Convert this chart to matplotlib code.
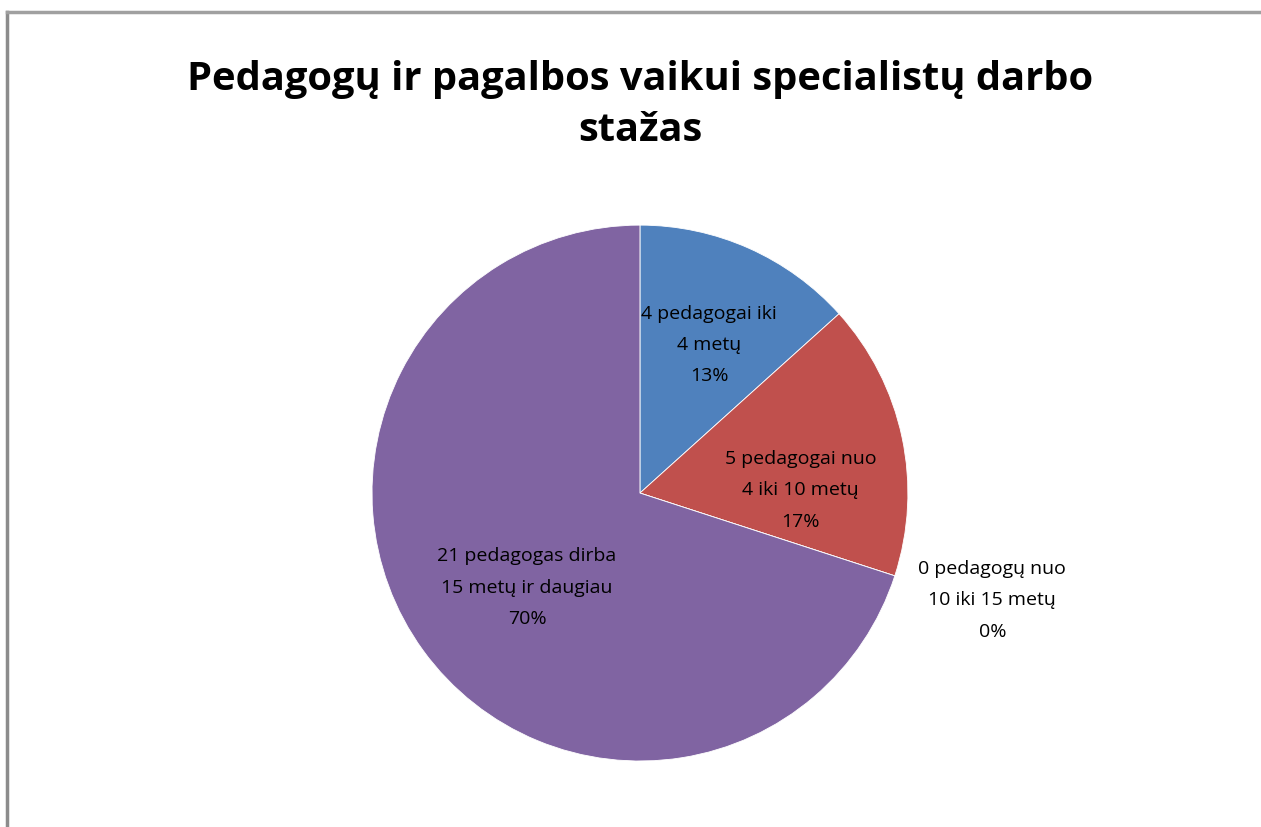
import numpy as np
import matplotlib.pyplot as plt
from matplotlib.lines import Line2D

title = "Pedagogų ir pagalbos vaikui specialistų darbo\nstažas"
labels = ["4 pedagogai iki\n4 metų", "5 pedagogai nuo\n4 iki 10 metų",
          "0 pedagogų nuo\n10 iki 15 metų", "21 pedagogas dirba\n15 metų ir daugiau"]
counts = [4, 5, 0, 21]
colors = ["#4F81BD", "#C0504D", "#9BBB59", "#8064A2"]

plt.rcParams['font.family'] = ['Open Sans', 'DejaVu Sans']

fig = plt.figure(figsize=(12.61, 8.27), dpi=100)
fig.patch.set_facecolor("white")

# chart frame (gray border cut at right/bottom like the source screenshot)
fig.add_artist(Line2D([7 / 1261, 7 / 1261], [0, 1 - 12 / 827], color="#8c8c8c", lw=2.5))
fig.add_artist(Line2D([7 / 1261, 1], [1 - 12 / 827, 1 - 12 / 827], color="#a0a0a0", lw=2.5))

fig.text(0.5075, 1 - 105 / 827, title, ha="center", va="center", fontsize=28.7,
         fontweight="bold", linespacing=1.38)

ax = fig.add_axes([0.295, 0.0798, 0.425, 0.648])
wedges, _ = ax.pie(counts, colors=colors, startangle=90, counterclock=False,
                   radius=1, wedgeprops=dict(edgecolor="white", linewidth=0.6))
ax.set_xlim(-1, 1)
ax.set_ylim(-1, 1)
ax.set_aspect("equal")
ax.axis("off")

total = sum(counts)
# label radius / angle tweaks per slice (Excel-style placement)
rad = [0.61, 0.60, 1.37, 0.55]
shift = [-1, -11, 0, 4]
for i, w in enumerate(wedges):
    mid = (w.theta1 + w.theta2) / 2 + shift[i]
    x = rad[i] * np.cos(np.radians(mid))
    y = rad[i] * np.sin(np.radians(mid))
    if counts[i] == 0:
        x, y = 1.315, -0.40
    pct = f"{round(100 * counts[i] / total)}%"
    ax.text(x, y, labels[i] + "\n" + pct, ha="center", va="center",
            fontsize=14, linespacing=1.95, clip_on=False)

fig.savefig("out.png", dpi=100)
